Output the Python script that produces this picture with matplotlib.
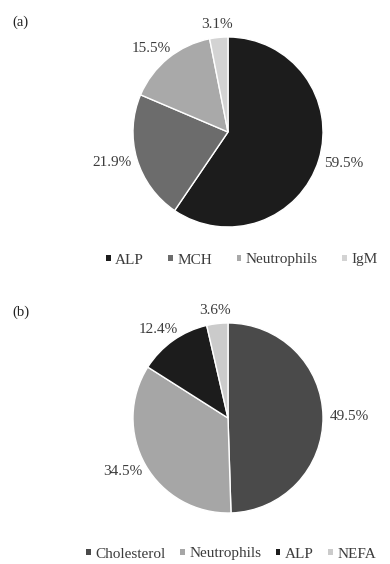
import matplotlib
matplotlib.use("Agg")
import matplotlib.pyplot as plt
import numpy as np
from matplotlib.patches import Patch

plt.rcParams['font.family'] = ['Liberation Serif', 'DejaVu Serif']

# Panel (a)
labels_a = ["ALP", "MCH", "Neutrophils", "IgM"]
values_a = [59.5, 21.9, 15.5, 3.1]
colors_a = ["#1c1c1c", "#6c6c6c", "#a9a9a9", "#d3d3d3"]

# Panel (b)
labels_b = ["Cholesterol", "Neutrophils", "ALP", "NEFA"]
values_b = [49.5, 34.5, 12.4, 3.6]
colors_b = ["#4a4a4a", "#a6a6a6", "#1c1c1c", "#cbcbcb"]

W, H, DPI = 390, 564, 100
fig = plt.figure(figsize=(W / DPI, H / DPI), dpi=DPI)
TEXT = "#3c3c3c"


def px_axes(cx, cy, r):
    return fig.add_axes([(cx - r) / W, (H - cy - r) / H, 2 * r / W, 2 * r / H])


def draw_pie(ax, values, colors):
    wedges, _ = ax.pie(values, colors=colors, startangle=90, counterclock=False,
                       radius=1.0, wedgeprops=dict(edgecolor="white", linewidth=1.0))
    ax.set_xlim(-1, 1)
    ax.set_ylim(-1, 1)
    ax.set_aspect("equal")
    ax.axis("off")
    renderer = fig.canvas.get_renderer()
    for w, v in zip(wedges, values):
        mid = np.deg2rad((w.theta1 + w.theta2) / 2)
        c, s = np.cos(mid), np.sin(mid)
        ann = ax.annotate(f"{v:.1f}%", xy=(1.07 * c, 1.07 * s), xytext=(0, 0),
                          textcoords="offset pixels", ha="center", va="center",
                          fontsize=11, color=TEXT, annotation_clip=False)
        bb = ann.get_window_extent(renderer)
        ann.xyann = (c * bb.width / 2, s * bb.height / 2)
    return wedges


ax_a = px_axes(228, 132, 95)
draw_pie(ax_a, values_a, colors_a)
ax_b = px_axes(228, 418, 95)
draw_pie(ax_b, values_b, colors_b)

fig.text(12 / W, 1 - 22 / H, "(a)", fontsize=10.5, color="#222222", va="center", ha="left")
fig.text(12 / W, 1 - 312 / H, "(b)", fontsize=10.5, color="#222222", va="center", ha="left")


def add_legend(labels, colors, x_left, y, colspace):
    handles = [Patch(facecolor=c, edgecolor="none") for c in colors]
    fig.legend(handles, labels, loc="center left", bbox_to_anchor=(x_left / W, 1 - y / H),
               ncol=len(labels), frameon=False, fontsize=11, handlelength=0.3,
               handleheight=0.3, handletextpad=0.3, columnspacing=colspace,
               borderpad=0, borderaxespad=0, labelcolor=TEXT)


add_legend(labels_a, colors_a, 106, 260, 1.6)
add_legend(labels_b, colors_b, 86, 554, 0.95)

fig.savefig("out.png", dpi=DPI)
